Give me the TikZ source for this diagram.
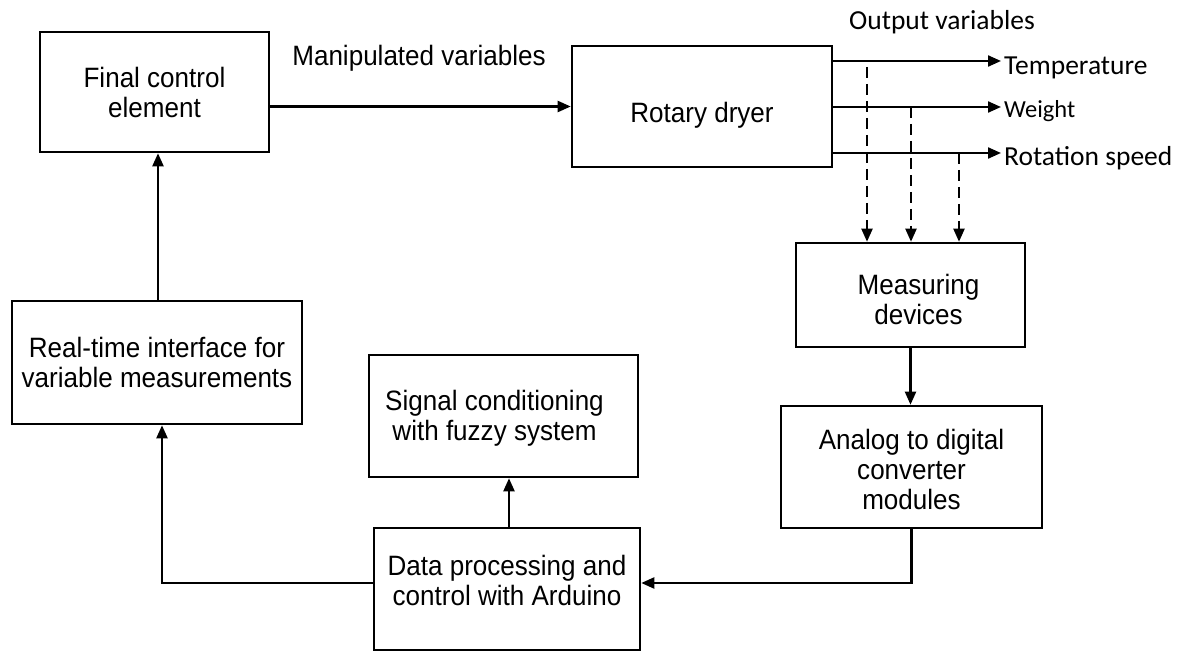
\documentclass[tikz,border=0pt]{standalone}
\usepackage{fontspec}
\setmainfont{Liberation Sans}[FakeStretch=0.93]
\newfontfamily\carlitofont{Carlito}
\usetikzlibrary{arrows.meta}
\newcommand{\shifttext}[2]{\raisebox{#1}[\height][\depth]{\begin{tabular}{@{}c@{}}#2\end{tabular}}}
\begin{document}
\begin{tikzpicture}[x=1pt,y=-1pt,
  blk/.style={draw,line width=2.6pt,inner sep=0pt,font=\fontsize{28}{30}\selectfont},
  conn/.style={line width=2.2pt,-{Triangle[length=13pt,width=11pt]}},
  dconn/.style={conn,dash pattern=on 11pt off 6pt},
  lbl/.style={inner sep=0pt,font=\fontsize{28}{30}\selectfont},
  olbl/.style={inner sep=0pt,anchor=west,font=\carlitofont\fontsize{27.5}{30}\selectfont}]
\useasboundingbox (0,0) rectangle (1186,652);

% blocks
\node[blk,minimum width=229pt,minimum height=120pt] (fce) at (154.5,92) {\shifttext{-5pt}{Final control\\element}};
\node[blk,minimum width=260pt,minimum height=121pt] (rd) at (702,106.5) {\shifttext{-10pt}{Rotary dryer}};
\node[blk,minimum width=229pt,minimum height=104pt] (meas) at (910.5,295) {\shifttext{-8pt}{\hspace*{16pt}Measuring\\\hspace*{16pt}devices}};
\node[blk,minimum width=261pt,minimum height=122pt] (adc) at (911.5,467) {\shifttext{-6pt}{Analog to digital\\converter\\modules}};
\node[blk,minimum width=266pt,minimum height=122pt] (data) at (507,589) {\shifttext{5pt}{Data processing and\\control with Arduino}};
\node[blk,minimum width=269pt,minimum height=122pt] (sig) at (503.5,416) {\shifttext{-3pt}{Signal conditioning\hspace*{18pt}\\with fuzzy system\hspace*{18pt}}};
\node[blk,minimum width=290pt,minimum height=123pt] (rt) at (157,362.5) {\shifttext{-4pt}{Real-time interface for\\variable measurements}};

% labels
\node[lbl] (mv) at (419,58) {Manipulated variables};
\node[olbl,anchor=center] (ov) at (942,22) {Output variables};
\node[olbl] (temp) at (1004,68) {Temperature};
\node[olbl,font=\carlitofont\fontsize{24.5}{28}\selectfont] (wt) at (1004,111) {Weight};
\node[olbl] (rot) at (1004,158) {Rotation speed};

% coordinates
\coordinate (t1) at (1001,61);
\coordinate (t2) at (1001,107);
\coordinate (t3) at (1001,153);
\coordinate (d1) at (867,67);
\coordinate (d2) at (911,107);
\coordinate (d3) at (959,153);
\coordinate (j1) at (911,583);
\coordinate (j2) at (162,583);
\coordinate (j3) at (509,0);
\coordinate (j4) at (158,0);

% connectors
\draw[conn] (fce.east |- rd.west) -- (rd.west);
\draw[conn] (rd.east |- t1) -- (t1);
\draw[conn] (rd.east |- t2) -- (t2);
\draw[conn] (rd.east |- t3) -- (t3);
\draw[dconn] (d1) -- (d1 |- meas.north);
\draw[dconn] (d2) -- (d2 |- meas.north);
\draw[dconn] (d3) -- (d3 |- meas.north);
\draw[conn] (meas.south) -- (meas.south |- adc.north);
\draw[conn] (adc.south) |- (data.east |- j1);
\draw[conn] (data.west |- j2) -- (j2) -- (j2 |- rt.south);
\draw[conn] (j3 |- data.north) -- (j3 |- sig.south);
\draw[conn] (j4 |- rt.north) -- (j4 |- fce.south);
\end{tikzpicture}
\end{document}
